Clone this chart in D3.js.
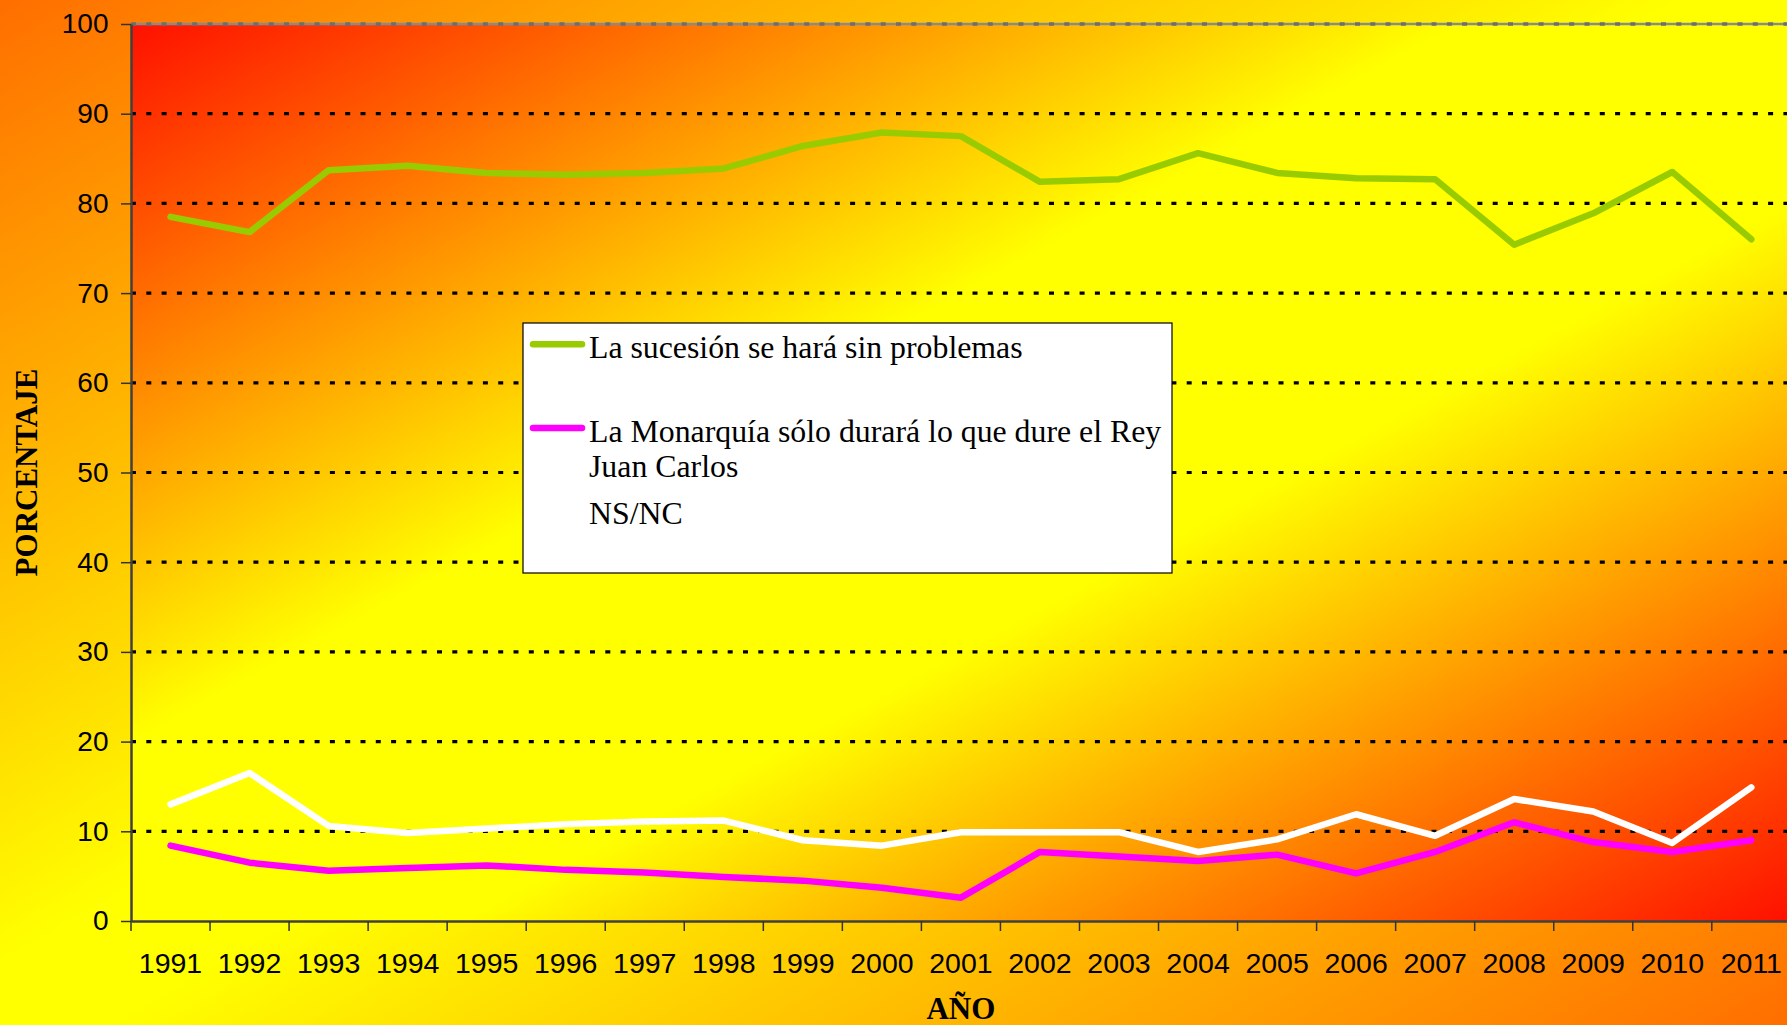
<!DOCTYPE html>
<html>
<head>
<meta charset="utf-8">
<script src="https://cdn.jsdelivr.net/npm/d3@7"></script>
<style>
  html, body { margin: 0; padding: 0; overflow: hidden; background: #ffff00; }
  svg { display: block; }
</style>
</head>
<body>
<svg id="chart" width="1787" height="1025"></svg>
<script>
// ---- data ----
const years = ["1991","1992","1993","1994","1995","1996","1997","1998","1999","2000",
               "2001","2002","2003","2004","2005","2006","2007","2008","2009","2010","2011"];
const sucesion = [78.5, 76.8, 83.7, 84.2, 83.4, 83.2, 83.4, 83.9, 86.4, 87.9,
                  87.5, 82.4, 82.7, 85.6, 83.4, 82.8, 82.7, 75.4, 78.9, 83.5, 76.0];
const monarquia = [8.4, 6.5, 5.6, 5.9, 6.2, 5.7, 5.4, 4.9, 4.5, 3.7,
                   2.6, 7.7, 7.2, 6.7, 7.4, 5.3, 7.7, 11.0, 8.8, 7.7, 9.0];
const nsnc = [13.0, 16.5, 10.6, 9.8, 10.3, 10.8, 11.1, 11.2, 9.0, 8.4,
              9.9, 9.9, 9.9, 7.7, 9.1, 11.9, 9.5, 13.6, 12.2, 8.7, 14.9];
const yTicks = [0, 10, 20, 30, 40, 50, 60, 70, 80, 90, 100];
const seriesNames = ["La sucesión se hará sin problemas",
                     "La Monarquía sólo durará lo que dure el Rey Juan Carlos",
                     "NS/NC"];
const seriesColors = ["#99CC00", "#FF00FF", "#FFFFFF"];
const yTitle = "PORCENTAJE";
const xTitle = "AÑO";

// ---- layout ----
const W = 1787, H = 1025;
const plot = { left: 131, top: 24, bottom: 921, band: 79.04 };
plot.right = plot.left + years.length * plot.band;

const svg = d3.select("#chart");
const defs = svg.append("defs");

function diagGrad(id, edge, mid, a, b) {
  const g = defs.append("linearGradient").attr("id", id)
    .attr("x1", 0).attr("y1", 0).attr("x2", 1).attr("y2", 1);
  g.append("stop").attr("offset", 0).attr("stop-color", edge);
  g.append("stop").attr("offset", a).attr("stop-color", mid);
  g.append("stop").attr("offset", b).attr("stop-color", mid);
  g.append("stop").attr("offset", 1).attr("stop-color", edge);
}
diagGrad("outerGrad", "#FF6E00", "#FFFF00", 0.47, 0.53);
diagGrad("plotGrad", "#FF1000", "#FFFF00", 0.4, 0.6);

svg.append("rect").attr("x", 0).attr("y", 0).attr("width", W).attr("height", H)
  .attr("fill", "url(#outerGrad)");

const x = d3.scaleBand().domain(years).range([plot.left, plot.right]).padding(0);
const y = d3.scaleLinear().domain([0, 100]).range([plot.bottom, plot.top]);

svg.append("rect")
  .attr("x", plot.left).attr("y", plot.top)
  .attr("width", plot.right - plot.left).attr("height", plot.bottom - plot.top)
  .attr("fill", "url(#plotGrad)");

// gridlines
const grid = svg.append("g");
grid.selectAll("line.g").data(yTicks.filter(v => v > 0 && v < 100)).join("line")
  .attr("x1", plot.left).attr("x2", plot.right)
  .attr("y1", d => y(d)).attr("y2", d => y(d))
  .attr("stroke", "#000").attr("stroke-width", 3.2)
  .attr("stroke-dasharray", "5 10.3");
// top border line (100)
grid.append("line")
  .attr("x1", plot.left).attr("x2", plot.right)
  .attr("y1", y(100)).attr("y2", y(100))
  .attr("stroke", "#8a8a8a").attr("stroke-width", 2.5);
grid.append("line")
  .attr("x1", plot.left).attr("x2", plot.right)
  .attr("y1", y(100)).attr("y2", y(100))
  .attr("stroke", "#6e6e6e").attr("stroke-width", 3.5)
  .attr("stroke-dasharray", "5 10.3");

// axes
const yAxis = svg.append("g").attr("transform", `translate(${plot.left},0)`)
  .call(d3.axisLeft(y).tickValues(yTicks).tickSize(10).tickPadding(12.5).tickSizeOuter(0));
yAxis.select(".domain").attr("stroke", "#404040").attr("stroke-width", 2.5);
yAxis.selectAll(".tick line").attr("stroke", "#333").attr("stroke-width", 1.5);
yAxis.selectAll("text").attr("font-family", "'Liberation Sans', Arial, sans-serif")
  .attr("font-size", 28).attr("fill", "#000");

const xAxis = svg.append("g").attr("transform", `translate(0,${plot.bottom})`)
  .call(d3.axisBottom(x).tickSize(0).tickPadding(32).tickSizeOuter(0));
xAxis.select(".domain").attr("stroke", "#404040").attr("stroke-width", 2.5);
xAxis.selectAll("text").attr("font-family", "'Liberation Sans', Arial, sans-serif")
  .attr("font-size", 28.5).attr("fill", "#000");
// category separator ticks
xAxis.selectAll("line.sep").data(years).join("line").attr("class", "sep")
  .attr("x1", d => x(d)).attr("x2", d => x(d))
  .attr("y1", 0).attr("y2", 10)
  .attr("stroke", "#333").attr("stroke-width", 1.5);

// lines
const line = d3.line()
  .x((d, i) => x(years[i]) + x.bandwidth() / 2)
  .y(d => y(d));
const allSeries = [sucesion, monarquia, nsnc];
svg.append("g").selectAll("path").data(allSeries).join("path")
  .attr("d", d => line(d))
  .attr("fill", "none")
  .attr("stroke", (d, i) => seriesColors[i])
  .attr("stroke-width", 6.5)
  .attr("stroke-linejoin", "round")
  .attr("stroke-linecap", "round");

// axis titles
svg.append("text")
  .attr("transform", `translate(36.5,${(plot.top + plot.bottom) / 2}) rotate(-90)`)
  .attr("text-anchor", "middle")
  .attr("font-family", "'Liberation Serif', 'Times New Roman', serif")
  .attr("font-weight", "bold").attr("font-size", 31).attr("fill", "#000")
  .text(yTitle);
svg.append("text")
  .attr("x", (plot.left + plot.right) / 2).attr("y", 1019)
  .attr("text-anchor", "middle")
  .attr("font-family", "'Liberation Serif', 'Times New Roman', serif")
  .attr("font-weight", "bold").attr("font-size", 31).attr("fill", "#000")
  .text(xTitle);

// legend
const lg = svg.append("g");
lg.append("rect").attr("x", 523).attr("y", 323).attr("width", 649).attr("height", 250)
  .attr("fill", "#fff").attr("stroke", "#000").attr("stroke-width", 1.2);
const legendItems = [
  { lines: ["La sucesión se hará sin problemas"], base: 358.3, sw: 344.3 },
  { lines: ["La Monarquía sólo durará lo que dure el Rey", "Juan Carlos"], base: 442.3, sw: 428 },
  { lines: ["NS/NC"], base: 524.3, sw: 510 }
];
legendItems.forEach((it, i) => {
  lg.append("line").attr("x1", 533).attr("x2", 582)
    .attr("y1", it.sw).attr("y2", it.sw)
    .attr("stroke", seriesColors[i]).attr("stroke-width", 6.5)
    .attr("stroke-linecap", "round");
  const t = lg.append("text")
    .attr("font-family", "'Liberation Serif', 'Times New Roman', serif")
    .attr("font-size", 31.8).attr("fill", "#000");
  it.lines.forEach((s, k) => {
    t.append("tspan").attr("x", 589).attr("y", it.base + k * 35).text(s);
  });
});
</script>
</body>
</html>
